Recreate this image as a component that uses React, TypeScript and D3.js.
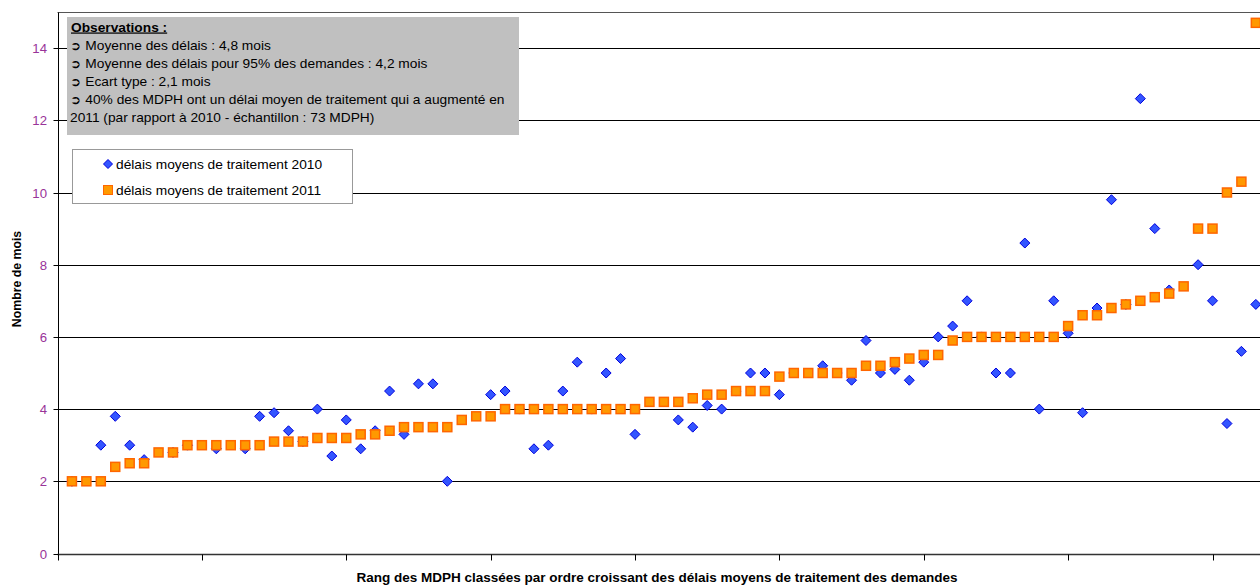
import React, { useEffect, useRef } from 'react';
import * as d3 from 'd3';

// rang des MDPH (1..83)
const RANKS: number[] = d3.range(1, 84);

// délais moyens de traitement 2011 (mois), classés par ordre croissant
const DELAIS_2011: number[] = [
  2.0, 2.0, 2.0, 2.4, 2.5, 2.5, 2.8, 2.8, 3.0, 3.0,
  3.0, 3.0, 3.0, 3.0, 3.1, 3.1, 3.1, 3.2, 3.2, 3.2,
  3.3, 3.3, 3.4, 3.5, 3.5, 3.5, 3.5, 3.7, 3.8, 3.8,
  4.0, 4.0, 4.0, 4.0, 4.0, 4.0, 4.0, 4.0, 4.0, 4.0,
  4.2, 4.2, 4.2, 4.3, 4.4, 4.4, 4.5, 4.5, 4.5, 4.9,
  5.0, 5.0, 5.0, 5.0, 5.0, 5.2, 5.2, 5.3, 5.4, 5.5,
  5.5, 5.9, 6.0, 6.0, 6.0, 6.0, 6.0, 6.0, 6.0, 6.3,
  6.6, 6.6, 6.8, 6.9, 7.0, 7.1, 7.2, 7.4, 9.0, 9.0,
  10.0, 10.3, 14.7,
];

// délais moyens de traitement 2010 (null = MDPH absente de l'échantillon)
const DELAIS_2010: (number | null)[] = [
  2.0, null, 3.0, 3.8, 3.0, 2.6, null, 2.8, 3.0, null,
  2.9, null, 2.9, 3.8, 3.9, 3.4, 3.1, 4.0, 2.7, 3.7,
  2.9, 3.4, 4.5, 3.3, 4.7, 4.7, 2.0, null, null, 4.4,
  4.5, 4.0, 2.9, 3.0, 4.5, 5.3, 4.0, 5.0, 5.4, 3.3,
  null, null, 3.7, 3.5, 4.1, 4.0, 4.5, 5.0, 5.0, 4.4,
  5.0, null, 5.2, 5.0, 4.8, 5.9, 5.0, 5.1, 4.8, 5.3,
  6.0, 6.3, 7.0, 6.0, 5.0, 5.0, 8.6, 4.0, 7.0, 6.1,
  3.9, 6.8, 9.8, 6.9, 12.6, 9.0, 7.3, null, 8.0, 7.0,
  3.6, 5.6, 6.9,
];

const Y_TICKS: number[] = [0, 2, 4, 6, 8, 10, 12, 14];
const X_TICKS: number[] = [0, 10, 20, 30, 40, 50, 60, 70, 80];

const OBSERVATIONS: string[] = [
  '\u27b2 Moyenne des délais : 4,8 mois',
  '\u27b2 Moyenne des délais pour 95% des demandes : 4,2 mois',
  '\u27b2 Ecart type : 2,1 mois',
  '\u27b2 40% des MDPH ont un délai moyen de traitement qui a augmenté en',
  '2011 (par rapport à 2010 - échantillon : 73 MDPH)',
];

const LEGEND: string[] = ['délais moyens de traitement 2010', 'délais moyens de traitement 2011'];

const FONT = 'Arial, "Liberation Sans", sans-serif';
const BLUE_FILL = '#3355ff';
const BLUE_STROKE = '#0000dd';
const ORANGE_FILL = '#ff9900';
const ORANGE_STROKE = '#ff6600';
const STRETCH = 1.1; // the source text is a bit wider than plain Arial

const W = 1260;
const H = 587;

const App: React.FC = () => {
  const svgRef = useRef<SVGSVGElement>(null);

  useEffect(() => {
    if (!svgRef.current) return;
    const svg = d3.select(svgRef.current);
    svg.selectAll('*').remove();

    const x = d3.scaleLinear().domain([0, 83.15]).range([57.5, 1258]);
    const y = d3.scaleLinear().domain([0, 15]).range([553.5, 12]);
    const crisp = (v: number) => Math.round(v) + 0.5;

    const label = (tx: number, ty: number, size: number, rot = 0) =>
      svg
        .append('text')
        .attr('transform', `translate(${tx},${ty}) rotate(${rot}) scale(${STRETCH},1)`)
        .attr('font-family', FONT)
        .attr('font-size', `${size}px`)
        .attr('fill', '#000');

    svg.append('rect').attr('width', W).attr('height', H).attr('fill', '#ffffff');

    // gridlines + top border
    [...Y_TICKS.filter((t) => t > 0), 15].forEach((t) => {
      svg
        .append('line')
        .attr('x1', x(0))
        .attr('x2', W)
        .attr('y1', crisp(y(t)))
        .attr('y2', crisp(y(t)))
        .attr('stroke', t === 15 ? '#555555' : '#000000')
        .attr('stroke-width', 1);
    });

    // axes
    svg
      .append('line')
      .attr('x1', crisp(x(0)))
      .attr('x2', crisp(x(0)))
      .attr('y1', crisp(y(15)))
      .attr('y2', crisp(y(0)))
      .attr('stroke', '#000');
    svg
      .append('line')
      .attr('x1', x(0))
      .attr('x2', W)
      .attr('y1', crisp(y(0)))
      .attr('y2', crisp(y(0)))
      .attr('stroke', '#333')
      .attr('stroke-width', 1.5);

    Y_TICKS.forEach((t) => {
      const yy = crisp(y(t));
      svg.append('line').attr('x1', crisp(x(0)) - 5).attr('x2', crisp(x(0))).attr('y1', yy).attr('y2', yy).attr('stroke', '#000');
      label(47, yy + 4, 12).attr('text-anchor', 'end').attr('fill', '#993399').text(String(t));
    });

    X_TICKS.forEach((t) => {
      const xx = crisp(x(t));
      svg.append('line').attr('x1', xx).attr('x2', xx).attr('y1', crisp(y(0))).attr('y2', crisp(y(0)) + 6).attr('stroke', '#000');
    });

    // axis titles
    label(657, 582, 12.3)
      .attr('text-anchor', 'middle')
      .attr('font-weight', 'bold')
      .text('Rang des MDPH classées par ordre croissant des délais moyens de traitement des demandes');

    svg
      .append('text')
      .attr('transform', 'translate(21, 279) rotate(-90)')
      .attr('text-anchor', 'middle')
      .attr('font-family', FONT)
      .attr('font-size', '12.3px')
      .attr('font-weight', 'bold')
      .text('Nombre de mois');

    // observations box
    svg.append('rect').attr('x', 67).attr('y', 17).attr('width', 452).attr('height', 118).attr('fill', '#c0c0c0');
    label(71, 31.5, 12.5).attr('font-weight', 'bold').attr('text-decoration', 'underline').text('Observations :');
    OBSERVATIONS.forEach((line, i) => {
      label(70, 49.5 + i * 18.2, 12.5).text(line);
    });

    const diamond = (cx: number, cy: number, r: number) =>
      `M${cx},${cy - r}L${cx + r},${cy}L${cx},${cy + r}L${cx - r},${cy}Z`;

    // legend
    svg
      .append('rect')
      .attr('x', 72.5)
      .attr('y', 149.5)
      .attr('width', 280)
      .attr('height', 54)
      .attr('fill', '#fff')
      .attr('stroke', '#999');
    svg.append('path').attr('d', diamond(108, 164, 4.5)).attr('fill', BLUE_FILL).attr('stroke', BLUE_STROKE);
    svg.append('rect').attr('x', 103.5).attr('y', 185.5).attr('width', 9).attr('height', 9).attr('fill', ORANGE_FILL).attr('stroke', ORANGE_STROKE);
    LEGEND.forEach((txt, i) => {
      label(116, 168.5 + i * 26, 12.5).text(txt);
    });

    // series 2010 (diamonds), drawn below 2011
    RANKS.forEach((r, i) => {
      const v = DELAIS_2010[i];
      if (v == null) return;
      svg.append('path').attr('d', diamond(x(r), y(v), 5)).attr('fill', BLUE_FILL).attr('stroke', BLUE_STROKE).attr('stroke-width', 1);
    });

    // series 2011 (squares)
    RANKS.forEach((r, i) => {
      const v = DELAIS_2011[i];
      svg
        .append('rect')
        .attr('x', x(r) - 4.5)
        .attr('y', y(v) - 4.5)
        .attr('width', 9)
        .attr('height', 9)
        .attr('fill', ORANGE_FILL)
        .attr('stroke', ORANGE_STROKE)
        .attr('stroke-width', 1.5);
    });
  }, []);

  return <svg ref={svgRef} width={W} height={H} style={{ position: 'absolute', left: 0, top: 0, display: 'block' }} />;
};

export default App;
